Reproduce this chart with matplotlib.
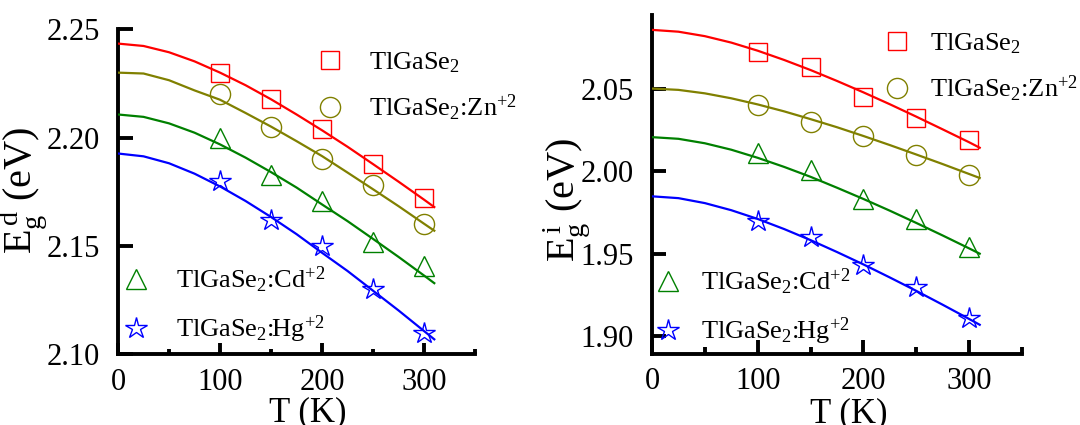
import matplotlib
matplotlib.use("Agg")
import matplotlib.pyplot as plt
from matplotlib.ticker import MultipleLocator, FormatStrFormatter

plt.rcParams["font.family"] = ["Liberation Serif", "DejaVu Serif"]
plt.rcParams["mathtext.fontset"] = "custom"
plt.rcParams["mathtext.rm"] = "Liberation Serif"
plt.rcParams["mathtext.it"] = "Liberation Serif:italic"
plt.rcParams["mathtext.default"] = "regular"

# Measured temperatures (K)
temps = [100, 150, 200, 250, 300]

# Direct band gap, measured (eV)
direct_pure = [2.230, 2.218, 2.204, 2.188, 2.172]
direct_zn = [2.220, 2.205, 2.190, 2.178, 2.160]
direct_cd = [2.200, 2.183, 2.171, 2.152, 2.141]
direct_hg = [2.180, 2.162, 2.150, 2.130, 2.110]

# Indirect band gap, measured (eV)
indirect_pure = [2.072, 2.063, 2.045, 2.032, 2.019]
indirect_zn = [2.040, 2.030, 2.021, 2.010, 1.998]
indirect_cd = [2.011, 2.001, 1.983, 1.971, 1.954]
indirect_hg = [1.970, 1.960, 1.943, 1.930, 1.911]

# Fitted curves, sampled along temperature (K)
fit_temps = [0, 25, 50, 75, 100, 125, 150, 175, 200, 225, 250, 275, 300, 310]

fit_direct_pure = [2.2434, 2.2423, 2.2394, 2.2352, 2.2300, 2.2242, 2.2177,
                   2.2107, 2.2034, 2.1958, 2.1878, 2.1797, 2.1714, 2.1680]
fit_direct_zn = [2.2300, 2.2296, 2.2265, 2.2218, 2.2175, 2.2114, 2.2051,
                 2.1984, 2.1915, 2.1839, 2.1762, 2.1684, 2.1603, 2.1571]
fit_direct_cd = [2.2107, 2.2096, 2.2066, 2.2023, 2.1969, 2.1908, 2.1841,
                 2.1770, 2.1692, 2.1615, 2.1533, 2.1450, 2.1364, 2.1329]
fit_direct_hg = [2.1927, 2.1914, 2.1882, 2.1834, 2.1775, 2.1708, 2.1634,
                 2.1555, 2.1469, 2.1385, 2.1294, 2.1203, 2.1108, 2.1070]

fit_indirect_pure = [2.0855, 2.0844, 2.0817, 2.0778, 2.0729, 2.0673, 2.0612,
                     2.0546, 2.0477, 2.0405, 2.0330, 2.0253, 2.0175, 2.0142]
fit_indirect_zn = [2.0500, 2.0492, 2.0471, 2.0441, 2.0404, 2.0362, 2.0315,
                   2.0266, 2.0213, 2.0158, 2.0101, 2.0043, 1.9983, 1.9959]
fit_indirect_cd = [2.0206, 2.0196, 2.0169, 2.0130, 2.0081, 2.0026, 1.9966,
                   1.9900, 1.9832, 1.9761, 1.9687, 1.9611, 1.9533, 1.9501]
fit_indirect_hg = [1.9848, 1.9837, 1.9807, 1.9764, 1.9711, 1.9650, 1.9583,
                   1.9511, 1.9436, 1.9357, 1.9276, 1.9192, 1.9106, 1.9071]

labels = [r"TlGaSe$_2$", r"TlGaSe$_2$:Zn$^{+2}$",
          r"TlGaSe$_2$:Cd$^{+2}$", r"TlGaSe$_2$:Hg$^{+2}$"]
colors = ["#ff0000", "#808000", "#008000", "#0000ff"]
markers = ["s", "o", "^", "*"]
msizes = [13, 14.5, 15, 16]

fig = plt.figure(figsize=(10.8, 4.25), dpi=100)
ax1 = fig.add_axes([0.1093, 0.1659, 0.3306, 0.7652])
ax2 = fig.add_axes([0.6037, 0.1682, 0.3426, 0.7965])


def draw_panel(ax, meas, fits, ylim, yticks, ylabel, label_xy,
               top_anchor, top_pad, bottom_anchor, bottom_pad,
               major_len, minor_len, ylen):
    handles = []
    for vals, fit, c, m, ms in zip(meas, fits, colors, markers, msizes):
        ax.plot(fit_temps, fit, color=c, lw=1.6, zorder=3)
        h, = ax.plot(temps, vals, linestyle="none", marker=m, ms=ms,
                     mfc="none", mec=c, mew=1.0, zorder=4, clip_on=False)
        handles.append(h)

    ax.set_xlim(0, 350)
    ax.set_ylim(*ylim)
    ax.set_yticks(yticks)
    ax.yaxis.set_major_formatter(FormatStrFormatter("%.2f"))
    ax.xaxis.set_major_locator(MultipleLocator(100))
    ax.xaxis.set_minor_locator(MultipleLocator(50))

    for side in ("top", "right"):
        ax.spines[side].set_visible(False)
    for side in ("left", "bottom"):
        ax.spines[side].set_linewidth(2.8)

    ax.tick_params(axis="x", which="major", direction="in", length=major_len,
                   width=2.8, labelsize=22, pad=10)
    ax.tick_params(axis="x", which="minor", direction="in", length=minor_len,
                   width=2.8)
    ax.tick_params(axis="y", which="major", direction="in", length=ylen,
                   width=2.8, labelsize=22, pad=13)

    ax.set_xlabel("T (K)", fontsize=25)
    ax.xaxis.set_label_coords(0.532, -0.128)
    ax.set_ylabel(ylabel, fontsize=29)
    ax.yaxis.set_label_coords(*label_xy)

    common = dict(frameon=False, fontsize=19, borderpad=0, borderaxespad=0,
                  handlelength=1.0, labelspacing=0.7)
    leg_top = ax.legend(handles[:2], labels[:2], loc="upper left",
                        bbox_to_anchor=top_anchor, handletextpad=top_pad,
                        **common)
    ax.add_artist(leg_top)
    ax.legend(handles[2:], labels[2:], loc="lower left",
              bbox_to_anchor=bottom_anchor, handletextpad=bottom_pad, **common)


draw_panel(ax1,
           [direct_pure, direct_zn, direct_cd, direct_hg],
           [fit_direct_pure, fit_direct_zn, fit_direct_cd, fit_direct_hg],
           (2.10, 2.25), [2.10, 2.15, 2.20, 2.25],
           r"E$_g^{\,d}$ (eV)", (-0.192, 0.505),
           (0.558, 0.936), 0.97, (0.0135, 0.029), 1.03, 8, 3.6, 11)

draw_panel(ax2,
           [indirect_pure, indirect_zn, indirect_cd, indirect_hg],
           [fit_indirect_pure, fit_indirect_zn, fit_indirect_cd, fit_indirect_hg],
           (1.8897, 2.0945), [1.90, 1.95, 2.00, 2.05],
           r"E$_g^{\,i}$ (eV)", (-0.162, 0.4535),
           (0.6265, 0.9527), 0.76, (0.0066, 0.019), 0.78, 10, 5, 10)

fig.savefig("out.png", dpi=100)
